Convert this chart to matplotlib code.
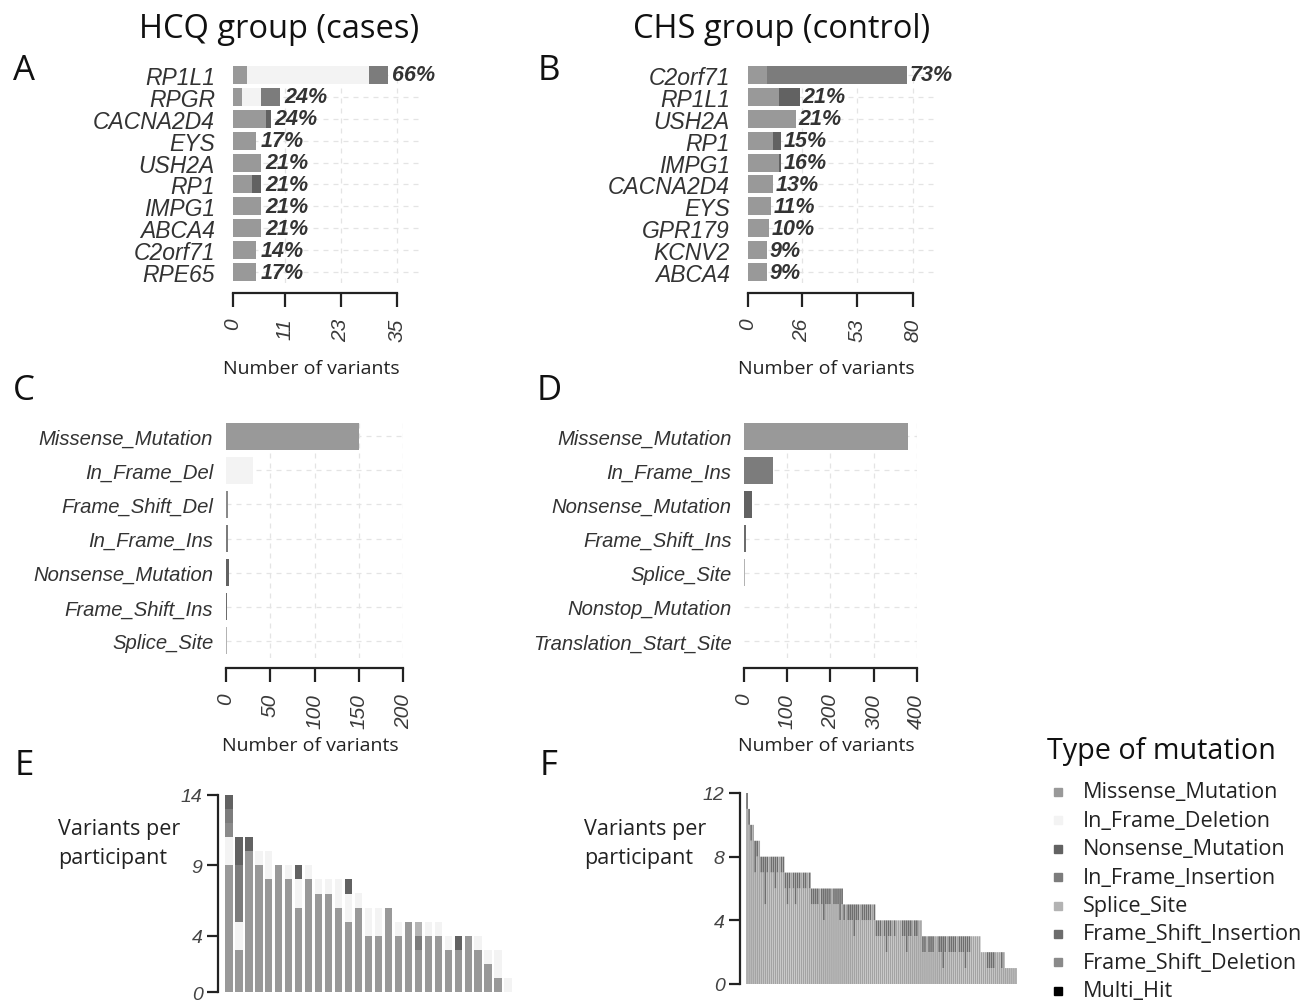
import matplotlib
matplotlib.use('Agg')
import matplotlib.pyplot as plt
import numpy as np

W, H = 1316, 1004
fig = plt.figure(figsize=(W / 100, H / 100), dpi=100)
fig.patch.set_facecolor('white')

ITAL = 'Liberation Sans'
CAL = 'Open Sans'
TXT = '#333333'

# colours of the mutation classes (greyscale figure)
col = {
    'Missense_Mutation': '#999999',
    'In_Frame_Del': '#f3f3f3',
    'Nonsense_Mutation': '#626262',
    'In_Frame_Ins': '#7c7c7c',
    'Splice_Site': '#b3b3b3',
    'Frame_Shift_Ins': '#6c6c6c',
    'Frame_Shift_Del': '#8a8a8a',
    'Nonstop_Mutation': '#c8c8c8',
    'Translation_Start_Site': '#d5d5d5',
    'Multi_Hit': '#000000',
}

# ---- A: top genes, HCQ group
hcq_genes = ['RP1L1', 'RPGR', 'CACNA2D4', 'EYS', 'USH2A', 'RP1', 'IMPG1', 'ABCA4', 'C2orf71', 'RPE65']
hcq_missense = [3, 2, 7, 5, 6, 4, 6, 6, 5, 5]
hcq_inframe_del = [26, 4, 0, 0, 0, 0, 0, 0, 0, 0]
hcq_inframe_ins = [4, 4, 0, 0, 0, 0, 0, 0, 0, 0]
hcq_nonsense = [0, 0, 1, 0, 0, 2, 0, 0, 0, 0]
hcq_pct = ['66%', '24%', '24%', '17%', '21%', '21%', '21%', '21%', '14%', '17%']

# ---- B: top genes, CHS group
chs_genes = ['C2orf71', 'RP1L1', 'USH2A', 'RP1', 'IMPG1', 'CACNA2D4', 'EYS', 'GPR179', 'KCNV2', 'ABCA4']
chs_missense = [9, 15, 23, 12, 15, 12, 11, 10, 9, 9]
chs_inframe_ins = [68, 0, 0, 0, 0, 0, 0, 0, 0, 0]
chs_nonsense = [0, 10, 0, 4, 1, 0, 0, 0, 0, 0]
chs_pct = ['73%', '21%', '21%', '15%', '16%', '13%', '11%', '10%', '9%', '9%']

# ---- C / D: variant classification
hcq_classes = ['Missense_Mutation', 'In_Frame_Del', 'Frame_Shift_Del', 'In_Frame_Ins',
               'Nonsense_Mutation', 'Frame_Shift_Ins', 'Splice_Site']
hcq_class_n = [150, 31, 3, 3, 4, 2, 1]
chs_classes = ['Missense_Mutation', 'In_Frame_Ins', 'Nonsense_Mutation', 'Frame_Shift_Ins',
               'Splice_Site', 'Nonstop_Mutation', 'Translation_Start_Site']
chs_class_n = [381, 68, 19, 5, 3, 1, 1]

# ---- E: variants per participant, HCQ
e_missense = [9, 3, 10, 9, 8, 9, 8, 6, 8, 7, 7, 6, 5, 6, 4, 4, 6, 4, 5, 3, 4, 4, 3, 3, 4, 3, 2, 1, 0]
e_inframe_del = [2, 2, 0, 1, 2, 0, 1, 2, 1, 1, 1, 2, 2, 1, 2, 2, 0, 1, 0, 0, 1, 1, 1, 0, 0, 1, 1, 2, 1]
e_fs_del = [1, 0, 0, 0, 0, 0, 0, 0, 0, 0, 0, 0, 0, 0, 0, 0, 0, 0, 0, 0, 0, 0, 0, 0, 0, 0, 0, 0, 0]
e_inframe_ins = [1, 4, 0, 0, 0, 0, 0, 0, 0, 0, 0, 0, 0, 0, 0, 0, 0, 0, 0, 1, 0, 0, 0, 0, 0, 0, 0, 0, 0]
e_splice = [0, 0, 0, 0, 0, 0, 0, 0, 0, 0, 0, 0, 0, 0, 0, 0, 0, 0, 0, 1, 0, 0, 0, 0, 0, 0, 0, 0, 0]
e_nonsense = [1, 2, 1, 0, 0, 0, 0, 1, 0, 0, 0, 0, 1, 0, 0, 0, 0, 0, 0, 0, 0, 0, 0, 1, 0, 0, 0, 0, 0]

# ---- F: variants per participant, CHS
f_total = [12, 11, 10, 10, 9, 9, 9,
           8, 8, 8, 8, 8, 8, 8, 8, 8, 8, 8, 8,
           7, 7, 7, 7, 7, 7, 7, 7, 7, 7, 7, 7, 7,
           6, 6, 6, 6, 6, 6, 6, 6, 6, 6, 6, 6, 6, 6, 6, 6,
           5, 5, 5, 5, 5, 5, 5, 5, 5, 5, 5, 5, 5, 5, 5, 5,
           4, 4, 4, 4, 4, 4, 4, 4, 4, 4, 4, 4, 4, 4, 4, 4, 4, 4, 4, 4, 4, 4, 4,
           3, 3, 3, 3, 3, 3, 3, 3, 3, 3, 3, 3, 3, 3, 3, 3, 3, 3, 3, 3, 3, 3, 3, 3, 3, 3, 3, 3, 3,
           2, 2, 2, 2, 2, 2, 2, 2, 2, 2, 2, 2,
           1, 1, 1, 1, 1, 1]
f_inframe_ins = [1, 1, 1, 0, 2, 1, 0,
                 1, 1, 3, 1, 0, 1, 1, 2, 1, 0, 1, 1,
                 1, 2, 1, 0, 1, 2, 1, 1, 0, 1, 1, 0, 1,
                 1, 1, 1, 1, 0, 1, 2, 1, 1, 1, 0, 1, 1, 1, 2, 1,
                 1, 0, 1, 1, 1, 2, 1, 1, 0, 1, 1, 1, 1, 1, 0, 1,
                 1, 1, 1, 0, 1, 2, 1, 1, 0, 1, 0, 0, 0, 1, 1, 2, 1, 1, 0, 1, 1, 0, 0,
                 1, 1, 0, 1, 1, 1, 0, 0, 1, 1, 2, 1, 0, 1, 1, 1, 1, 0, 1, 1, 1, 2, 1, 1, 0, 0, 0, 0, 0,
                 0, 0, 0, 1, 1, 1, 1, 0, 0, 0, 1, 0,
                 0, 0, 0, 0, 0, 0]

legend_labels = ['Missense_Mutation', 'In_Frame_Deletion', 'Nonsense_Mutation', 'In_Frame_Insertion',
                 'Splice_Site', 'Frame_Shift_Insertion', 'Frame_Shift_Deletion', 'Multi_Hit']
legend_keys = ['Missense_Mutation', 'In_Frame_Del', 'Nonsense_Mutation', 'In_Frame_Ins',
               'Splice_Site', 'Frame_Shift_Ins', 'Frame_Shift_Del', 'Multi_Hit']


def px_axes(x0, y0, x1, y1):
    return fig.add_axes([x0 / W, 1 - y1 / H, (x1 - x0) / W, (y1 - y0) / H])


def style_hbar(ax, xmax, ticks, nrows, labels, pad, lsize):
    ax.set_ylim(nrows - 0.5, -0.5)
    for s in ['top', 'right', 'left']:
        ax.spines[s].set_visible(False)
    ax.spines['bottom'].set_position(('outward', 7))
    ax.spines['bottom'].set_bounds(0, xmax)
    ax.spines['bottom'].set_linewidth(1.6)
    ax.spines['bottom'].set_color('#222222')
    ax.set_xticks(ticks)
    ax.set_xticklabels([str(t) for t in ticks], rotation=90, fontstyle='italic',
                       family=ITAL, fontsize=15, color='#3a3a3a')
    ax.tick_params(axis='x', direction='out', length=10, width=1.6, color='#222222', pad=8)
    ax.set_yticks(range(nrows))
    ax.set_yticklabels(labels, fontstyle='italic', family=ITAL, color=TXT, fontsize=lsize)
    ax.tick_params(axis='y', length=0, pad=pad)
    for t in ticks[1:]:
        ax.axvline(t, color='#e4e4e4', lw=0.9, ls=(0, (4, 4)), zorder=0)
    for r in range(nrows):
        ax.axhline(r, color='#e4e4e4', lw=0.9, ls=(0, (4, 4)), zorder=0)


def stacked_h(ax, layers, height):
    left = np.zeros(len(layers[0][0]))
    for vals, c in layers:
        v = np.array(vals, dtype=float)
        ax.barh(range(len(v)), v, left=left, height=height, color=c, edgecolor='none', zorder=2)
        left = left + v
    return left


# ---------------- A
axA = px_axes(233, 65, 421, 284)
endA = stacked_h(axA, [(hcq_missense, col['Missense_Mutation']),
                       (hcq_inframe_del, col['In_Frame_Del']),
                       (hcq_inframe_ins, col['In_Frame_Ins']),
                       (hcq_nonsense, col['Nonsense_Mutation'])], 0.82)
axA.set_xlim(0, 40.1)
style_hbar(axA, 35, [0, 11, 23, 35], 10, hcq_genes, 13, 16.5)
for i, p in enumerate(hcq_pct):
    axA.annotate(p, (endA[i], i), xytext=(3, 0), textcoords='offset points', va='center',
                 ha='left', fontsize=15.5, fontweight='bold', fontstyle='italic', family=ITAL, color=TXT)

# ---------------- B
axB = px_axes(748, 65, 936, 284)
endB = stacked_h(axB, [(chs_missense, col['Missense_Mutation']),
                       (chs_inframe_ins, col['In_Frame_Ins']),
                       (chs_nonsense, col['Nonsense_Mutation'])], 0.82)
axB.set_xlim(0, 91)
style_hbar(axB, 80, [0, 26, 53, 80], 10, chs_genes, 13, 16.5)
for i, p in enumerate(chs_pct):
    axB.annotate(p, (endB[i], i), xytext=(2, 0), textcoords='offset points', va='center',
                 ha='left', fontsize=15.5, fontweight='bold', fontstyle='italic', family=ITAL, color=TXT)

# ---------------- C
axC = px_axes(225.7, 420, 403.3, 659)
axC.barh(range(len(hcq_class_n)), hcq_class_n, height=0.79,
         color=[col[c] for c in hcq_classes], edgecolor='none', zorder=2)
axC.set_xlim(0, 200)
style_hbar(axC, 200, [0, 50, 100, 150, 200], 7, hcq_classes, 9, 14.6)

# ---------------- D
axD = px_axes(744, 420, 916.7, 659)
axD.barh(range(len(chs_class_n)), chs_class_n, height=0.79,
         color=[col[c] for c in chs_classes], edgecolor='none', zorder=2)
axD.set_xlim(0, 400)
style_hbar(axD, 400, [0, 100, 200, 300, 400], 7, chs_classes, 9, 14.6)


def style_vbar(ax, ymax, ticks):
    ax.set_ylim(0, ymax)
    for s in ['top', 'right', 'bottom']:
        ax.spines[s].set_visible(False)
    ax.spines['left'].set_position(('outward', 3))
    ax.spines['left'].set_linewidth(1.6)
    ax.spines['left'].set_color('#222222')
    ax.set_xticks([])
    ax.set_yticks(ticks)
    ax.set_yticklabels([str(t) for t in ticks], fontstyle='italic', family=ITAL,
                       fontsize=14, color='#444444')
    ax.tick_params(axis='y', direction='out', length=8, width=1.6, color='#222222', pad=3)


# ---------------- E
axE = px_axes(222, 795.7, 515, 993.3)
bottom = np.zeros(len(e_missense))
for vals, c in [(e_missense, col['Missense_Mutation']), (e_inframe_del, col['In_Frame_Del']),
                (e_fs_del, col['Frame_Shift_Del']), (e_inframe_ins, col['In_Frame_Ins']),
                (e_splice, col['Splice_Site']), (e_nonsense, col['Nonsense_Mutation'])]:
    v = np.array(vals, dtype=float)
    axE.bar(range(len(v)), v, bottom=bottom, width=0.76, color=c, edgecolor='none')
    bottom = bottom + v
axE.set_xlim(-0.68, len(e_missense) - 1 + 0.68)
style_vbar(axE, 14, [0, 4, 9, 14])

# ---------------- F
axF = px_axes(744, 794, 1019, 985)
f_tot = np.array(f_total, dtype=float)
f_ins = np.array(f_inframe_ins, dtype=float)
f_mis = f_tot - f_ins
xf = np.arange(len(f_tot))
axF.bar(xf, f_mis, width=0.85, color='#a3a3a3', edgecolor='none', snap=False)
axF.bar(xf, f_ins, bottom=f_mis, width=0.85, color='#6e6e6e', edgecolor='none', snap=False)
axF.set_xlim(-1.5, len(f_tot) + 0.5)
style_vbar(axF, 12, [0, 4, 8, 12])

# ---------------- overlay text
ov = fig.add_axes([0, 0, 1, 1])
ov.set_xlim(0, W)
ov.set_ylim(H, 0)
ov.axis('off')
ov.patch.set_visible(False)

ov.text(279, 30, 'HCQ group (cases)', family=CAL, fontsize=23.5, ha='center', va='center', color='#111111')
ov.text(782, 30, 'CHS group (control)', family=CAL, fontsize=23.5, ha='center', va='center', color='#111111')
for letter, x, y in [('A', 24, 71), ('B', 549, 71), ('C', 24, 391), ('D', 549, 391),
                     ('E', 24, 766), ('F', 549, 766)]:
    ov.text(x, y, letter, family=CAL, fontsize=25, ha='center', va='center', color='#111111')
for x, y in [(311, 369), (826, 369), (310, 746), (826, 746)]:
    ov.text(x, y, 'Number of variants', family=CAL, fontsize=14, ha='center', va='center', color='#222222')
for x in [58, 584]:
    ov.text(x, 844, 'Variants per\nparticipant', family=CAL, fontsize=15.5, ha='left', va='center',
            color='#222222', linespacing=1.5)

ov.text(1047, 752, 'Type of mutation', family=CAL, fontsize=20.7, ha='left', va='center', color='#111111')
for i, (lab, key) in enumerate(zip(legend_labels, legend_keys)):
    y = 793 + i * 28.4
    ov.add_patch(plt.Rectangle((1054, y - 4), 8, 8, color=col[key]))
    ov.text(1083, y, lab, family=CAL, fontsize=15.6, ha='left', va='center', color='#222222')

fig.savefig('out.png', dpi=100, facecolor='white')
